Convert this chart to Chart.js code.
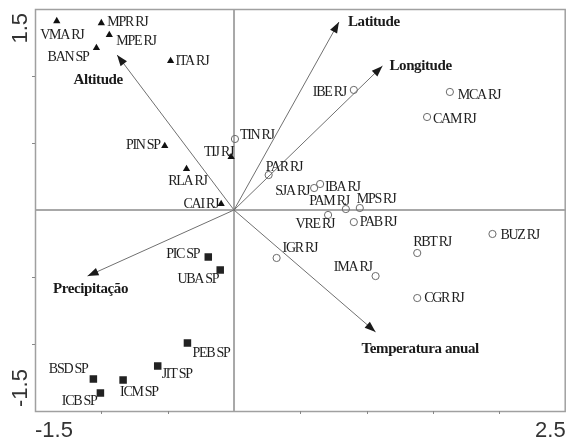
<!DOCTYPE html>
<html><head><meta charset="utf-8">
<script src="https://cdn.jsdelivr.net/npm/chart.js@4.4.0/dist/chart.umd.min.js"></script>
<style>html,body{margin:0;padding:0;background:#fff;overflow:hidden}#wrap{width:571px;height:442px;position:relative}</style>
</head><body><div id="wrap"><canvas id="c" width="571" height="442"></canvas></div>
<script>
// ---- data ----
const triNames = ['VMA RJ','MPR RJ','MPE RJ','BAN SP','ITA RJ','PIN SP','TIJ RJ','RLA RJ','CAI RJ'];
const triX = [-1.336,-1.0,-0.94,-1.037,-0.478,-0.522,-0.022,-0.358,-0.097];
const triY = [1.41,1.395,1.306,1.209,1.112,0.478,0.396,0.306,0.045];

const circNames = ['IBE RJ','MCA RJ','CAM RJ','TIN RJ','PAR RJ','SJA RJ','IBA RJ','PAM RJ','MPS RJ','VRE RJ','PAB RJ','IGR RJ','IMA RJ','RBT RJ','BUZ RJ','CGR RJ'];
const circX = [0.903,1.627,1.455,0.007,0.261,0.604,0.649,0.843,0.948,0.709,0.903,0.321,1.067,1.381,1.948,1.381];
const circY = [0.896,0.881,0.694,0.530,0.261,0.164,0.194,0.007,0.015,-0.037,-0.090,-0.358,-0.493,-0.321,-0.179,-0.657];

const sqNames = ['PIC SP','UBA SP','PEB SP','JIT SP','ICM SP','BSD SP','ICB SP'];
const sqX = [-0.194,-0.104,-0.351,-0.575,-0.836,-1.060,-1.007];
const sqY = [-0.351,-0.448,-0.993,-1.164,-1.269,-1.261,-1.366];

const arrowNames = ['Altitude','Latitude','Longitude','Precipitação','Temperatura anual'];
const arrowX = [-0.881,0.791,1.119,-1.104,1.067];
const arrowY = [1.157,1.403,1.075,-0.493,-0.910];

const xMin = -1.5, xMax = 2.5, yMin = -1.5, yMax = 1.5;
const xTicks = [-1.0,-0.5,0.5,1.0,1.5,2.0];
const yTicks = [-1.0,-0.5,0.5,1.0];
const xTickLabels = ['-1.5','2.5'];
const yTickLabels = ['-1.5','1.5'];

// ---- style: label offsets (px) relative to marker ----
const labelPos = {
 'VMA RJ':[5,14,'center'],'MPR RJ':[6,-1,'left'],'MPE RJ':[7,6,'left'],'BAN SP':[-8,9,'right'],'ITA RJ':[5,0,'left'],
 'PIN SP':[-5,-1,'right'],'TIJ RJ':[2,-5,'right'],'RLA RJ':[1,12,'center'],'CAI RJ':[-3,0,'right'],
 'IBE RJ':[-8,2,'right'],'MCA RJ':[8,3,'left'],'CAM RJ':[6,2,'left'],'TIN RJ':[5,-4,'left'],'PAR RJ':[-3,-8,'left'],
 'SJA RJ':[-5,3,'right'],'IBA RJ':[5,3,'left'],'PAM RJ':[3,-8,'right'],'MPS RJ':[-3,-9,'left'],'VRE RJ':[6,9,'right'],
 'PAB RJ':[6,0,'left'],'IGR RJ':[6,-10,'left'],'IMA RJ':[-4,-9,'right'],'RBT RJ':[-4,-11,'left'],'BUZ RJ':[8,1,'left'],
 'CGR RJ':[7,0,'left'],'PIC SP':[-9,-3,'right'],'UBA SP':[-2,9,'right'],'PEB SP':[5,10,'left'],'JIT SP':[4,8,'left'],
 'ICM SP':[-3,12,'left'],'BSD SP':[-6,-10,'right'],'ICB SP':[-4,8,'right']
};
const arrowLabelPos = {
 'Altitude':[-19,25,'center'],'Latitude':[9,0,'left'],'Longitude':[7,0,'left'],
 'Precipitação':[3,13,'center'],'Temperatura anual':[-14,17,'left']
};

const toPts = (xs, ys) => xs.map((x,i)=>({x:x, y:ys[i]}));

const pointSets = [
 {names: triNames, ds: {label:'tri', data: toPts(triX,triY), pointStyle:'triangle', pointRadius:4.2, backgroundColor:'#111', borderColor:'#111', borderWidth:0, order:1}},
 {names: sqNames, ds: {label:'sq', data: toPts(sqX,sqY), pointStyle:'rect', pointRadius:5.3, backgroundColor:'#222', borderColor:'#222', borderWidth:0, order:1}},
 {names: circNames, ds: {label:'circ', data: toPts(circX,circY), pointStyle:'circle', pointRadius:3.6, backgroundColor:'rgba(255,255,255,0)', borderColor:'#6a6a6a', borderWidth:1, order:1}}
];
const arrowSets = arrowNames.map((n,i)=>({label:n, data:[{x:0,y:0},{x:arrowX[i],y:arrowY[i]}], showLine:true, borderColor:'#707070', borderWidth:1, pointRadius:0, order:5}));

const plugin = {
 id:'biplot',
 beforeDatasetsDraw(chart){
  const c = chart.ctx, xs = chart.scales.x, ys = chart.scales.y, a = chart.chartArea;
  c.save();
  // zero lines
  c.strokeStyle = '#a8a8a8'; c.lineWidth = 2;
  const x0 = xs.getPixelForValue(0), y0 = ys.getPixelForValue(0);
  c.beginPath(); c.moveTo(x0, a.top); c.lineTo(x0, a.bottom); c.stroke();
  c.beginPath(); c.moveTo(a.left, y0); c.lineTo(a.right, y0); c.stroke();
  // frame
  c.strokeStyle = '#a0a0a0'; c.lineWidth = 1.5;
  c.strokeRect(a.left+0.5, a.top+0.5, a.right-a.left-1, a.bottom-a.top);
  // tick marks
  c.lineWidth = 1; c.strokeStyle = '#888';
  xTicks.forEach(v=>{const p=Math.round(xs.getPixelForValue(v))+0.5; c.beginPath(); c.moveTo(p,a.bottom); c.lineTo(p,a.bottom+3); c.stroke();});
  yTicks.forEach(v=>{const p=Math.round(ys.getPixelForValue(v))+0.5; c.beginPath(); c.moveTo(a.left,p); c.lineTo(a.left-3,p); c.stroke();});
  // axis labels
  c.fillStyle = '#333'; c.font = '22px "Liberation Sans", Arial, sans-serif';
  c.textBaseline = 'alphabetic';
  c.textAlign = 'left'; c.fillText(xTickLabels[0], xs.getPixelForValue(xMin), a.bottom+26);
  c.textAlign = 'right'; c.fillText(xTickLabels[1], xs.getPixelForValue(xMax), a.bottom+26);
  c.save(); c.translate(a.left-8, ys.getPixelForValue(yMax)+4); c.rotate(-Math.PI/2);
  c.textAlign='right'; c.fillText(yTickLabels[1], 0, 0); c.restore();
  c.save(); c.translate(a.left-8, ys.getPixelForValue(yMin)-4); c.rotate(-Math.PI/2);
  c.textAlign='left'; c.fillText(yTickLabels[0], 0, 0); c.restore();
  c.restore();
 },
 afterDatasetsDraw(chart){
  const c = chart.ctx, xs = chart.scales.x, ys = chart.scales.y;
  c.save();
  const ox = xs.getPixelForValue(0), oy = ys.getPixelForValue(0);
  // arrowheads + labels
  arrowNames.forEach((n,i)=>{
   const tx = xs.getPixelForValue(arrowX[i]), ty = ys.getPixelForValue(arrowY[i]);
   const ang = Math.atan2(ty-oy, tx-ox), L = 11, W = 4;
   const bx = tx - L*Math.cos(ang), by = ty - L*Math.sin(ang);
   c.fillStyle = '#1a1a1a';
   c.beginPath(); c.moveTo(tx,ty);
   c.lineTo(bx + W*Math.sin(ang), by - W*Math.cos(ang));
   c.lineTo(bx - W*Math.sin(ang), by + W*Math.cos(ang));
   c.closePath(); c.fill();
   const lp = arrowLabelPos[n];
   c.font = 'bold 15px "Liberation Serif", "Times New Roman", serif';
   c.letterSpacing = '-0.4px';
   c.textAlign = lp[2]; c.textBaseline = 'middle'; c.fillStyle = '#1a1a1a';
   c.fillText(n, tx+lp[0], ty+lp[1]);
  });
  // point labels
  c.font = '14px "Liberation Serif", "Times New Roman", serif';
  c.letterSpacing = '-1.3px';
  c.fillStyle = '#1e1e1e'; c.textBaseline = 'middle';
  pointSets.forEach(s=>{
   s.names.forEach((n,i)=>{
    const p = s.ds.data[i];
    const px = xs.getPixelForValue(p.x), py = ys.getPixelForValue(p.y);
    const lp = labelPos[n];
    c.textAlign = lp[2];
    c.fillText(n, px+lp[0], py+lp[1]);
   });
  });
  c.restore();
 }
};

new Chart(document.getElementById('c'), {
 type:'scatter',
 data:{datasets:[...pointSets.map(s=>s.ds), ...arrowSets]},
 options:{
  responsive:false, animation:false, devicePixelRatio:1,
  layout:{padding:{left:35, top:9, right:0, bottom:31}},
  plugins:{legend:{display:false}, tooltip:{enabled:false}},
  scales:{
   x:{type:'linear', min:xMin, max:xMax, display:false},
   y:{type:'linear', min:yMin, max:yMax, display:false}
  }
 },
 plugins:[plugin]
});
</script></body></html>
